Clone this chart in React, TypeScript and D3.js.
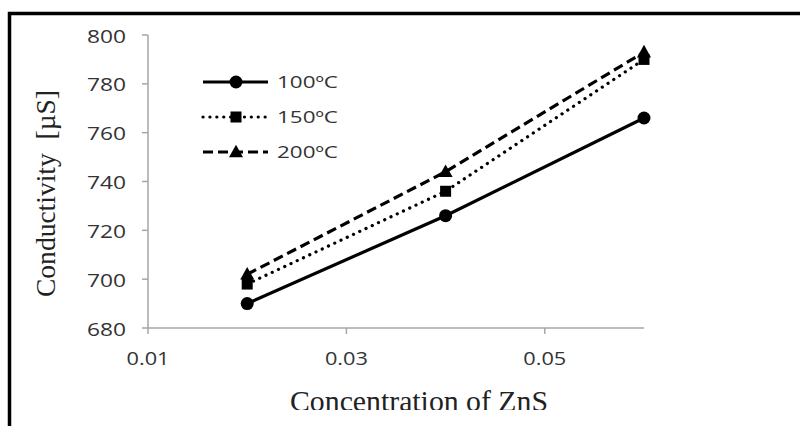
import React from "react";
import * as d3 from "d3";

const concentrations = [0.02, 0.04, 0.06];
const series100 = [690, 726, 766];
const series150 = [698, 736, 790];
const series200 = [702, 744, 793];
const seriesNames = ["100ºC", "150ºC", "200ºC"];
const yTicks = [680, 700, 720, 740, 760, 780, 800];
const xTicks = [0.01, 0.03, 0.05];

const W = 800;
const H = 426;

export default function App() {
  const x = d3.scaleLinear().domain([0.01, 0.06]).range([148, 644]);
  const y = d3.scaleLinear().domain([680, 800]).range([328, 35]);
  const series = [series100, series150, series200];
  const styles = [
    { dash: undefined as string | undefined, cap: "butt" },
    { dash: "0.1 6.8", cap: "round" },
    { dash: "10 5", cap: "butt" },
  ];
  const line = d3
    .line<number>()
    .x((_, i) => x(concentrations[i]))
    .y((d) => y(d));

  const marker = (k: number, cx: number, cy: number, key: string) => {
    if (k === 0) return <circle key={key} cx={cx} cy={cy} r={6.5} fill="#000" />;
    if (k === 1)
      return <rect key={key} x={cx - 5.5} y={cy - 5.5} width={11} height={11} fill="#000" />;
    const s = 14;
    const h = s * 0.9;
    return (
      <path
        key={key}
        d={`M${cx},${cy - h / 2 - 1}L${cx + s / 2},${cy + h / 2 - 1}L${cx - s / 2},${cy + h / 2 - 1}Z`}
        fill="#000"
      />
    );
  };

  const legendY = [82, 117, 152];

  return (
    <svg
      width={W}
      height={H}
      style={{ position: "absolute", left: 0, top: 0, background: "#fff" }}
    >
      <defs>
        <clipPath id="xtitleclip">
          <rect x={0} y={0} width={W} height={410} />
        </clipPath>
      </defs>
      <rect x={0} y={0} width={W} height={H} fill="#fff" />
      {/* frame */}
      <rect x={9.5} y={13.5} width={W + 20} height={H + 20} fill="none" stroke="#000" strokeWidth={3.5} />

      {/* axes */}
      <line x1={148} y1={y(800)} x2={148} y2={y(680)} stroke="#a6a6a6" strokeWidth={1.5} />
      <line x1={148} y1={y(680)} x2={x(0.06)} y2={y(680)} stroke="#a6a6a6" strokeWidth={1.5} />
      {yTicks.map((t) => (
        <g key={"yt" + t}>
          <line x1={142} x2={148} y1={y(t)} y2={y(t)} stroke="#a6a6a6" strokeWidth={1.5} />
          <text
            x={126}
            y={y(t) + 7.5}
            textAnchor="end"
            fontFamily="Open Sans, sans-serif"
            fontSize={18}
            fill="#333"
            textLength={39}
            lengthAdjust="spacingAndGlyphs"
          >
            {t}
          </text>
        </g>
      ))}
      {xTicks.map((t) => (
        <g key={"xt" + t}>
          <line x1={x(t)} x2={x(t)} y1={y(680)} y2={y(680) + 6} stroke="#a6a6a6" strokeWidth={1.5} />
          <text
            x={x(t)}
            y={365}
            textAnchor="middle"
            fontFamily="Open Sans, sans-serif"
            fontSize={18}
            fill="#333"
            textLength={43}
            lengthAdjust="spacingAndGlyphs"
          >
            {t.toFixed(2)}
          </text>
        </g>
      ))}

      {/* series */}
      {series.map((s, k) => (
        <g key={"s" + k}>
          <path
            d={line(s) || ""}
            fill="none"
            stroke="#000"
            strokeWidth={3.2}
            strokeDasharray={styles[k].dash}
            strokeLinecap={styles[k].cap as any}
          />
          {s.map((v, i) => marker(k, x(concentrations[i]), y(v), `m${k}-${i}`))}
        </g>
      ))}

      {/* legend */}
      {seriesNames.map((n, k) => (
        <g key={"lg" + k}>
          <line
            x1={203}
            x2={268}
            y1={legendY[k]}
            y2={legendY[k]}
            stroke="#000"
            strokeWidth={3.2}
            strokeDasharray={styles[k].dash}
            strokeLinecap={styles[k].cap as any}
          />
          {marker(k, 236, legendY[k], "lm" + k)}
          <text
            x={277}
            y={legendY[k] + 6}
            fontFamily="Open Sans, sans-serif"
            fontSize={17}
            fill="#333"
            textLength={61}
            lengthAdjust="spacingAndGlyphs"
          >
            {n}
          </text>
        </g>
      ))}

      {/* axis titles */}
      <text
        transform={`translate(55,193.5) rotate(-90)`}
        textAnchor="middle"
        fontFamily="Liberation Serif, Times New Roman, serif"
        fontSize={28}
        fill="#222"
        textLength={207}
        lengthAdjust="spacingAndGlyphs"
      >
        {"Conductivity\u00a0\u00a0[µS]"}
      </text>
      <g clipPath="url(#xtitleclip)">
        <text
          x={419}
          y={411}
          textAnchor="middle"
          fontFamily="Liberation Serif, Times New Roman, serif"
          fontSize={29}
          fill="#222"
          textLength={258}
          lengthAdjust="spacingAndGlyphs"
        >
          Concentration of ZnS
        </text>
      </g>
    </svg>
  );
}
